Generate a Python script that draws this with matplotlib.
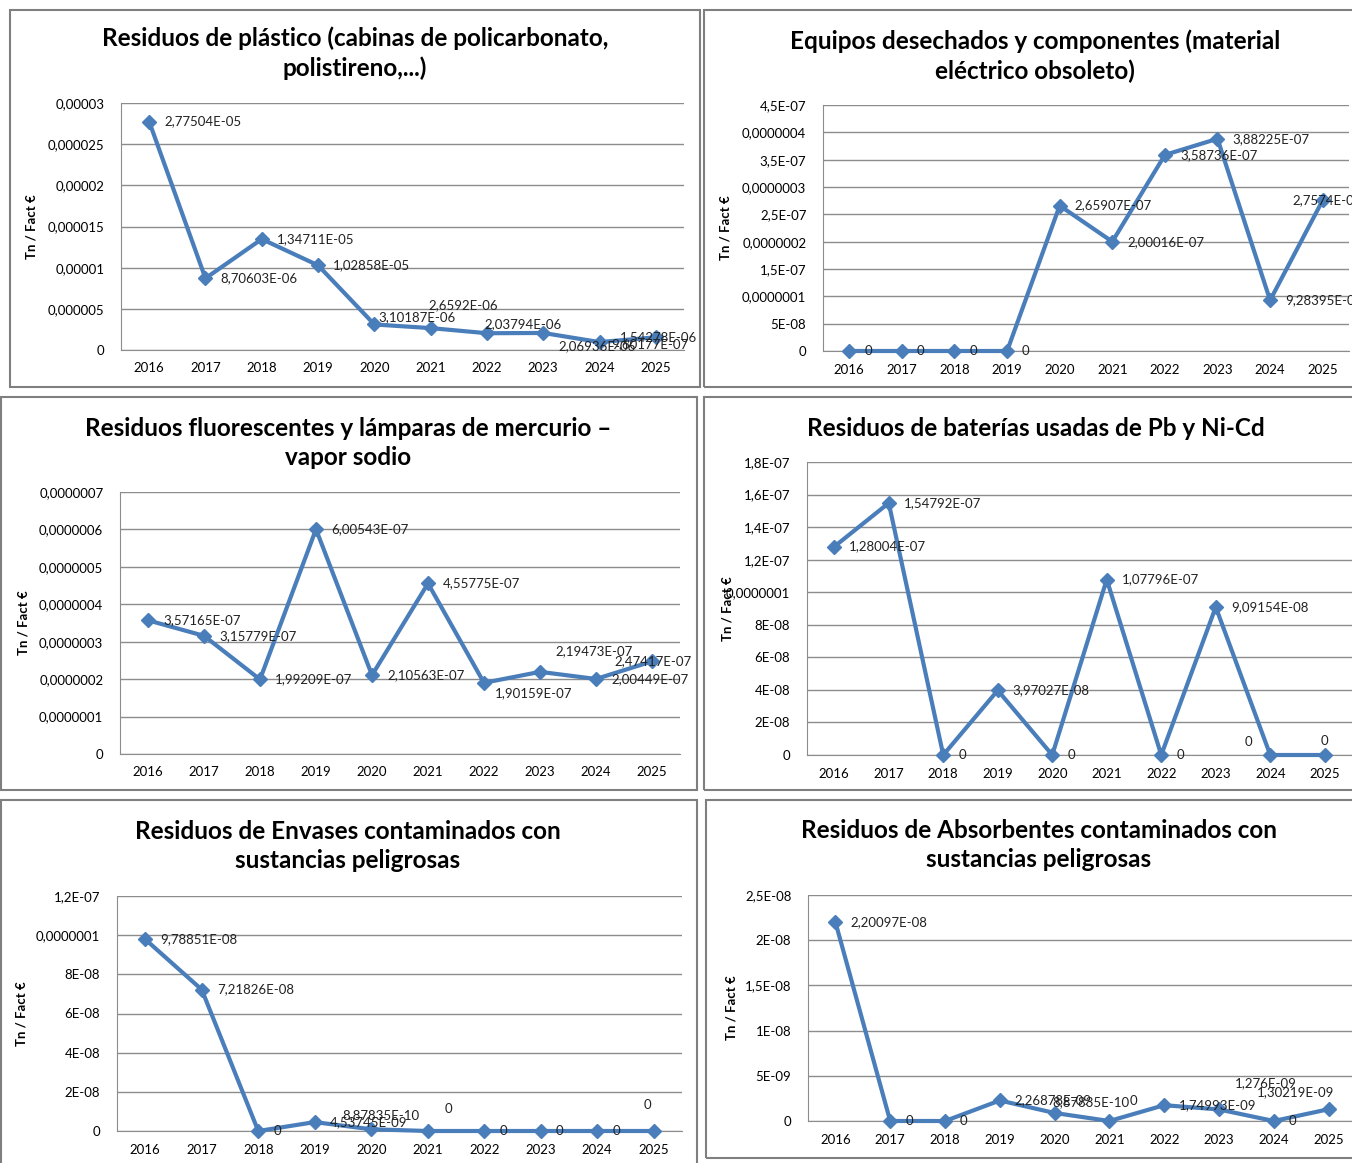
import matplotlib
matplotlib.use('Agg')
import matplotlib.pyplot as plt
from matplotlib.patches import Rectangle

# Tamaño de la imagen en píxeles (dpi = 100)
W, H = 1352, 1163

plt.rcParams['font.family'] = ['Lato', 'DejaVu Sans']

LINE_COLOR = '#4a7ebb'
GRID_COLOR = '#8c8c8c'
FRAME_COLOR = '#7f7f7f'

years = ['2016', '2017', '2018', '2019', '2020', '2021', '2022', '2023', '2024', '2025']

# ── Datos (Tn / Fact €) ─────────────────────────────────────────────
plastico = [2.77504e-05, 8.70603e-06, 1.34711e-05, 1.02858e-05, 3.10187e-06,
            2.6592e-06, 2.03794e-06, 2.06936e-06, 9.60177e-07, 1.54278e-06]
equipos = [0, 0, 0, 0, 2.65907e-07, 2.00016e-07, 3.58736e-07, 3.88225e-07,
           9.28395e-08, 2.7574e-07]
fluorescentes = [3.57165e-07, 3.15779e-07, 1.99209e-07, 6.00543e-07, 2.10563e-07,
                 4.55775e-07, 1.90159e-07, 2.19473e-07, 2.00449e-07, 2.47417e-07]
baterias = [1.28004e-07, 1.54792e-07, 0, 3.97027e-08, 0, 1.07796e-07, 0,
            9.09154e-08, 0, 0]
envases = [9.78851e-08, 7.21826e-08, 0, 4.53745e-09, 8.87835e-10, 0, 0, 0, 0, 0]
absorbentes = [2.20097e-08, 0, 0, 2.26878e-09, 8.87835e-10, 0, 1.74993e-09,
               1.276e-09, 0, 1.30219e-09]

# Etiquetas del eje Y (tal cual las muestra Excel)
yt_plastico = ['0', '0,000005', '0,00001', '0,000015', '0,00002', '0,000025', '0,00003']
yv_plastico = [0, 5e-6, 1e-5, 1.5e-5, 2e-5, 2.5e-5, 3e-5]
yt_equipos = ['0', '5E-08', '0,0000001', '1,5E-07', '0,0000002', '2,5E-07',
              '0,0000003', '3,5E-07', '0,0000004', '4,5E-07']
yv_equipos = [0, 5e-8, 1e-7, 1.5e-7, 2e-7, 2.5e-7, 3e-7, 3.5e-7, 4e-7, 4.5e-7]
yt_fluor = ['0', '0,0000001', '0,0000002', '0,0000003', '0,0000004',
            '0,0000005', '0,0000006', '0,0000007']
yv_fluor = [0, 1e-7, 2e-7, 3e-7, 4e-7, 5e-7, 6e-7, 7e-7]
yt_baterias = ['0', '2E-08', '4E-08', '6E-08', '8E-08', '0,0000001',
               '1,2E-07', '1,4E-07', '1,6E-07', '1,8E-07']
yv_baterias = [0, 2e-8, 4e-8, 6e-8, 8e-8, 1e-7, 1.2e-7, 1.4e-7, 1.6e-7, 1.8e-7]
yt_envases = ['0', '2E-08', '4E-08', '6E-08', '8E-08', '0,0000001', '1,2E-07']
yv_envases = [0, 2e-8, 4e-8, 6e-8, 8e-8, 1e-7, 1.2e-7]
yt_absorb = ['0', '5E-09', '1E-08', '1,5E-08', '2E-08', '2,5E-08']
yv_absorb = [0, 5e-9, 1e-8, 1.5e-8, 2e-8, 2.5e-8]


def fmt(v):
    """Formato 'General' de Excel con coma decimal."""
    if v == 0:
        return '0'
    mant, exp = f'{v:.5E}'.split('E')
    mant = mant.rstrip('0').rstrip('.')
    return f'{mant}E{exp}'.replace('.', ',')


def frame(fig, x0, y0, x1, y1):
    fig.patches.append(Rectangle((x0 / W, 1 - y1 / H), (x1 - x0) / W, (y1 - y0) / H,
                                 transform=fig.transFigure, fill=False,
                                 ec=FRAME_COLOR, lw=1.5))


def panel(fig, box, title, title_xy, values, yvals, ylabels, ylab_x, offsets):
    left, top, right, bottom = box
    ax = fig.add_axes([left / W, 1 - bottom / H, (right - left) / W, (bottom - top) / H])
    xs = range(len(years))
    ax.plot(xs, values, color=LINE_COLOR, lw=3, marker='D', ms=7,
            clip_on=False, zorder=5)

    for i, v in enumerate(values):
        dx, dy = offsets.get(i, (15, 0))
        ax.annotate(fmt(v), (i, v), xytext=(dx, dy), textcoords='offset pixels',
                    ha='left', va='center', fontsize=9.5, color='#222222',
                    annotation_clip=False, zorder=6)

    ax.set_xlim(-0.5, len(years) - 0.5)
    ax.set_ylim(0, yvals[-1])
    ax.set_xticks(list(xs))
    ax.set_xticklabels(years, fontsize=9.5)
    ax.set_yticks(yvals)
    ax.set_yticklabels(ylabels, fontsize=9.5)
    ax.tick_params(length=0, pad=12)
    ax.tick_params(axis='x', pad=9)
    ax.grid(axis='y', color=GRID_COLOR, lw=1)
    ax.set_axisbelow(True)
    for sp in ('top', 'right'):
        ax.spines[sp].set_visible(False)
    for sp in ('left', 'bottom'):
        ax.spines[sp].set_color(GRID_COLOR)
    ax.set_ylabel('Tn / Fact €', fontsize=9.5, fontweight='bold')
    ax.yaxis.set_label_coords((ylab_x - left) / (right - left), 0.5)

    fig.text(title_xy[0] / W, 1 - title_xy[1] / H, title, ha='center', va='center',
             fontsize=17.5, fontweight='bold', linespacing=1.35)
    return ax


fig = plt.figure(figsize=(W / 100, H / 100), dpi=100)
fig.patch.set_facecolor('white')

# Marcos de los gráficos
frame(fig, 10, 10, 700, 387)
frame(fig, 704, 10, 1360, 387)
frame(fig, 1, 397, 697, 790)
frame(fig, 704, 397, 1360, 790)
frame(fig, 1, 800, 697, 1170)
frame(fig, 706, 800, 1360, 1158)

panel(fig, (121, 103, 684, 350),
      'Residuos de plástico (cabinas de policarbonato,\npolistireno,...)', (355, 53),
      plastico, yv_plastico, yt_plastico, 38,
      {4: (4, 7), 5: (-2, 23), 6: (-3, 9), 7: (15, -13), 8: (12, -2), 9: (-36, 0)})

panel(fig, (823, 105, 1349, 351),
      'Equipos desechados y componentes (material\neléctrico obsoleto)', (1035, 56),
      equipos, yv_equipos, yt_equipos, 731,
      {9: (-30, 0)})

panel(fig, (120, 492, 680, 754),
      'Residuos fluorescentes y lámparas de mercurio –\nvapor sodio', (348, 443),
      fluorescentes, yv_fluor, yt_fluor, 30,
      {6: (11, -10), 7: (15, 21), 9: (-38, 0)})

panel(fig, (807, 462, 1352, 755),
      'Residuos de baterías usadas de Pb y Ni-Cd', (1036, 429),
      baterias, yv_baterias, yt_baterias, 733,
      {8: (-26, 13), 9: (-4, 14)})

panel(fig, (117, 896, 682, 1131),
      'Residuos de Envases contaminados con\nsustancias peligrosas', (348, 846),
      envases, yv_envases, yt_envases, 27,
      {4: (-29, 14), 5: (17, 22), 9: (-10, 26)})

panel(fig, (808, 895, 1356, 1121),
      'Residuos de Absorbentes contaminados con\nsustancias peligrosas', (1039, 845),
      absorbentes, yv_absorb, yt_absorb, 737,
      {4: (-2, 11), 5: (20, 20), 7: (16, 26), 9: (-72, 17)})

fig.savefig('out.png', dpi=100, facecolor='white')
